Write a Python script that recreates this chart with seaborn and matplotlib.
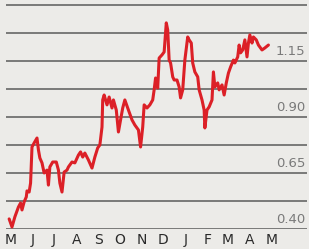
import pandas as pd
import numpy as np
import matplotlib.pyplot as plt
import seaborn as sns

# 数据：距 5 月 1 日的天数与价格
days = [-2, 2, 6, 11, 14, 16, 19, 22, 23, 26, 28, 30, 33, 37, 39, 41, 44, 47, 51, 53,
        55, 59, 64, 67, 69, 72, 75, 79, 81, 86, 90, 95, 98, 101, 104, 109, 114, 118, 122, 125,
        128, 129, 131, 135, 138, 142, 144, 148, 151, 154, 157, 160, 165, 170, 174, 179, 182, 185, 187, 191,
        195, 199, 201, 203, 206, 208, 212, 215, 218, 220, 222, 224, 227, 229, 233, 236, 238, 241, 244, 248,
        250, 253, 255, 258, 262, 264, 268, 271, 272, 275, 278, 282, 284, 286, 290, 292, 296, 299, 302, 305,
        308, 312, 314, 318, 320, 322, 325, 328, 331, 333, 335, 338, 340, 344, 347, 352, 356, 361]
price = [0.445, 0.409, 0.454, 0.498, 0.516, 0.485, 0.521, 0.543, 0.570, 0.565,
         0.605, 0.766, 0.784, 0.806, 0.753, 0.717, 0.695, 0.650, 0.663, 0.596,
         0.677, 0.699, 0.699, 0.663, 0.605, 0.565, 0.654, 0.663, 0.677, 0.699,
         0.695, 0.730, 0.744, 0.721, 0.739, 0.708, 0.672, 0.721, 0.762, 0.775,
         0.855, 0.976, 0.998, 0.954, 0.989, 0.940, 0.976, 0.931, 0.833, 0.887,
         0.940, 0.976, 0.931, 0.887, 0.864, 0.842, 0.766, 0.855, 0.954, 0.940,
         0.954, 0.976, 1.021, 1.074, 1.029, 1.163, 1.177, 1.190, 1.320, 1.288,
         1.154, 1.141, 1.079, 1.065, 1.065, 1.034, 0.985, 1.021, 1.154, 1.257,
         1.244, 1.230, 1.141, 1.101, 1.079, 1.021, 0.976, 0.931, 0.851, 0.931,
         0.945, 0.976, 1.101, 1.034, 1.052, 1.021, 1.043, 0.998, 1.052, 1.096,
         1.123, 1.154, 1.141, 1.168, 1.221, 1.186, 1.199, 1.244, 1.168, 1.230,
         1.266, 1.230, 1.257, 1.244, 1.221, 1.199, 1.208, 1.221]

month_labels = ['M', 'J', 'J', 'A', 'S', 'O', 'N', 'D', 'J', 'F', 'M', 'A', 'M']
y_labels = ['0.40', '0.65', '0.90', '1.15']
grid_levels = [0.40, 0.525, 0.65, 0.775, 0.90, 1.025, 1.15, 1.275, 1.40]

start = pd.Timestamp('2009-05-01')
df = pd.DataFrame({'date': start + pd.to_timedelta(days, unit='D'), 'price': price})
month_ticks = pd.date_range(start, periods=len(month_labels), freq='MS')

sns.set_style('white')
plt.rcParams['font.family'] = ['Liberation Sans Narrow', 'DejaVu Sans']

bg = '#ecebe8'
fig = plt.figure(figsize=(3.09, 2.49), dpi=100, facecolor=bg)
ax = fig.add_axes([6 / 309, 20 / 249, 301 / 309, 229 / 249])
ax.set_facecolor(bg)

# 网格线
for lv in grid_levels:
    ax.axhline(lv, color='#666666', lw=1.2, zorder=1)

sns.lineplot(data=df, x='date', y='price', ax=ax, color='#dc2027', lw=2.2, zorder=3)

ax.set_xlim(start - pd.Timedelta(days=6.4), start + pd.Timedelta(days=415))
ax.set_ylim(0.40, 1.422)

ax.set_xticks(month_ticks)
ax.set_xticklabels(month_labels, fontsize=10, color='#2a2a2a')
ax.tick_params(axis='x', direction='in', length=4, width=0.8, color='#555555', pad=3)
ax.set_yticks([])
ax.set_xlabel('')
ax.set_ylabel('')
for s in ax.spines.values():
    s.set_visible(False)

# 右侧数值标签
trans = ax.get_yaxis_transform()
for lab in y_labels:
    ax.text(0.995, float(lab) + 0.012, lab, transform=trans, ha='right', va='bottom',
            fontsize=9.5, color='#7a7a7a')

plt.savefig('out.png', dpi=100, facecolor=bg)
